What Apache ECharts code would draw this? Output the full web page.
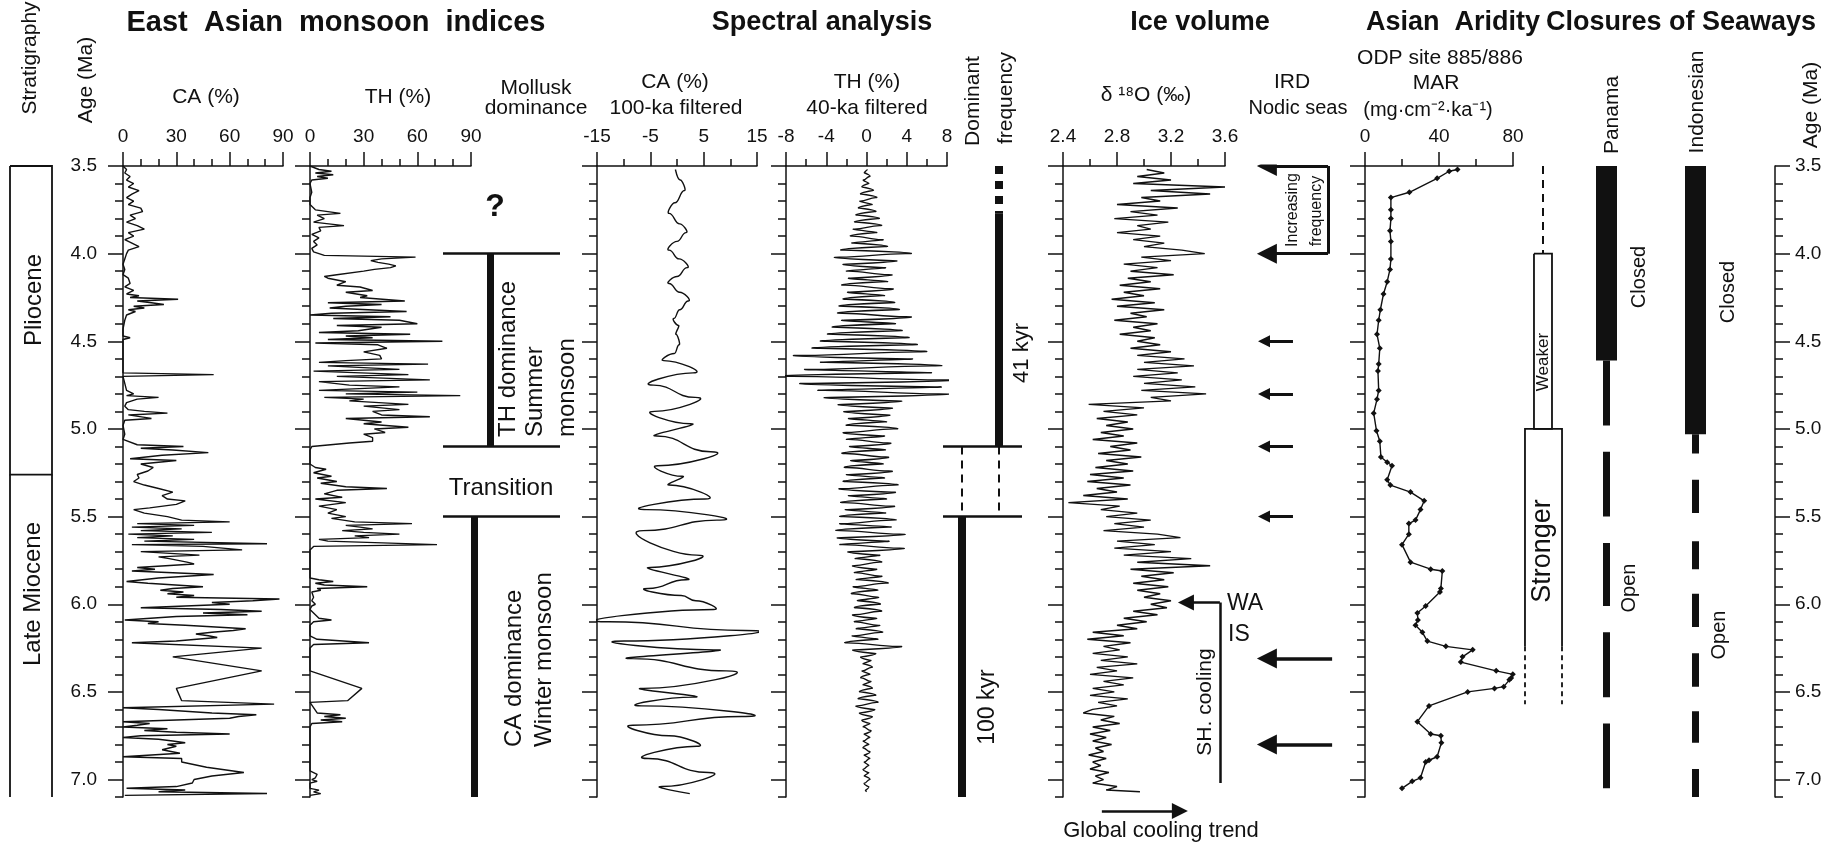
<!DOCTYPE html>
<html>
<head>
<meta charset="utf-8">
<title>Late Miocene - Pliocene monsoon, ice volume, aridity and seaways</title>
<script src="https://cdn.jsdelivr.net/npm/echarts@6/dist/echarts.min.js"></script>
<style>
  html, body { margin: 0; padding: 0; background: #fff; }
  #chart { width: 1846px; height: 847px; }
</style>
</head>
<body>
<div id="chart"></div>
<script>
// ---- age axis ticks (Ma) ----
const ageMajor = [3.5, 4.0, 4.5, 5.0, 5.5, 6.0, 6.5, 7.0];
const ageMinor = [3.6, 3.7, 3.8, 3.9, 4.1, 4.2, 4.3, 4.4, 4.6, 4.7, 4.8, 4.9, 5.1, 5.2, 5.3, 5.4,
  5.6, 5.7, 5.8, 5.9, 6.1, 6.2, 6.3, 6.4, 6.6, 6.7, 6.8, 6.9, 7.1];

// ---- stratigraphy ----
const stratBounds = [3.5, 5.26, 7.1];

// ---- East Asian monsoon indices: [age Ma, %] ----
const caPct = [
  [3.50,0],[3.52,2],[3.54,1],[3.56,4],[3.58,2],[3.60,6],[3.62,3],[3.64,9],[3.66,5],[3.68,2],
  [3.70,6],[3.72,3],[3.74,10],[3.76,11],[3.78,4],[3.80,7],[3.82,2],[3.84,8],[3.86,12],[3.88,3],
  [3.90,6],[3.92,1],[3.94,5],[3.96,9],[3.98,3],[4.00,2],[4.03,1],[4.06,0],[4.09,1],[4.12,0],
  [4.14,3],[4.17,4],[4.19,1],[4.21,6],[4.23,2],[4.24,9],[4.25,4],[4.26,31],[4.27,8],[4.28,16],
  [4.29,23],[4.30,6],[4.31,12],[4.32,3],[4.33,7],[4.35,2],[4.38,1],[4.43,0],[4.47,0],[4.48,4],
  [4.49,0],[4.68,0],[4.69,51],[4.70,0],[4.78,2],[4.80,6],[4.81,2],[4.82,20],[4.83,8],[4.85,2],
  [4.87,1],[4.89,3],[4.90,12],[4.91,25],[4.92,3],[4.94,16],[4.95,1],[4.98,0],[5.03,1],[5.06,0],
  [5.09,8],[5.10,34],[5.11,10],[5.12,28],[5.135,48],[5.15,22],[5.17,4],[5.18,30],[5.20,10],[5.22,17],
  [5.24,14],[5.26,8],[5.28,9],[5.30,6],[5.32,12],[5.34,20],[5.36,28],[5.38,22],[5.40,25],[5.41,35],
  [5.43,30],[5.45,15],[5.46,6],[5.48,12],[5.50,25],[5.52,33],[5.53,60],[5.54,8],[5.55,40],[5.56,5],
  [5.57,33],[5.58,10],[5.59,50],[5.60,3],[5.61,28],[5.62,8],[5.63,40],[5.64,12],[5.655,81],[5.66,5],
  [5.67,45],[5.69,67],[5.70,10],[5.72,43],[5.73,20],[5.74,26],[5.76,36],[5.77,40],[5.79,8],[5.80,18],
  [5.81,5],[5.83,51],[5.85,20],[5.87,2],[5.88,14],[5.90,45],[5.91,28],[5.92,21],[5.93,34],[5.94,25],
  [5.95,40],[5.96,30],[5.97,88],[5.98,73],[5.99,50],[6.00,60],[6.02,10],[6.03,55],[6.04,78],[6.05,45],
  [6.06,70],[6.07,30],[6.09,1],[6.10,20],[6.11,14],[6.12,35],[6.14,69],[6.15,62],[6.16,50],[6.17,41],
  [6.18,48],[6.19,53],[6.21,30],[6.22,5],[6.25,78],[6.30,28],[6.38,78],[6.48,30],[6.55,33],[6.57,85],
  [6.59,0],[6.60,20],[6.61,20],[6.62,50],[6.63,75],[6.64,65],[6.65,60],[6.66,30],[6.67,0],[6.68,15],
  [6.69,8],[6.70,0],[6.71,25],[6.72,12],[6.73,30],[6.74,60],[6.75,10],[6.76,0],[6.77,20],[6.78,28],
  [6.79,35],[6.80,25],[6.81,30],[6.83,22],[6.85,32],[6.87,0],[6.88,33],[6.90,33],[6.93,47],[6.96,68],
  [6.98,50],[7.00,40],[7.02,39],[7.04,30],[7.05,2],[7.06,35],[7.07,20],[7.08,81],[7.09,1]
];

const thPct = [
  [3.50,0],[3.52,5],[3.53,12],[3.54,3],[3.55,13],[3.56,4],[3.57,10],[3.58,1],[3.60,0],[3.65,1],
  [3.68,0],[3.72,0],[3.75,3],[3.77,17],[3.78,4],[3.80,8],[3.82,2],[3.84,19],[3.85,5],[3.87,6],
  [3.89,1],[3.91,5],[3.93,2],[3.95,4],[3.97,1],[3.99,2],[4.01,8],[4.02,59],[4.03,40],[4.04,34],
  [4.05,38],[4.06,44],[4.07,48],[4.08,45],[4.09,36],[4.10,30],[4.12,15],[4.13,8],[4.14,10],[4.16,20],
  [4.18,15],[4.19,28],[4.21,35],[4.22,20],[4.24,32],[4.25,28],[4.27,53],[4.28,10],[4.29,40],[4.30,20],
  [4.31,11],[4.33,54],[4.34,12],[4.35,0],[4.36,45],[4.37,13],[4.38,50],[4.40,60],[4.41,15],[4.42,40],
  [4.44,27],[4.45,5],[4.46,56],[4.47,20],[4.48,35],[4.49,10],[4.50,74],[4.51,3],[4.52,38],[4.54,43],
  [4.56,30],[4.58,39],[4.60,40],[4.61,20],[4.62,5],[4.63,66],[4.64,10],[4.66,50],[4.67,2],[4.69,55],
  [4.70,15],[4.72,67],[4.73,5],[4.75,22],[4.76,50],[4.78,5],[4.79,60],[4.80,20],[4.81,84],[4.82,8],
  [4.83,30],[4.84,22],[4.86,55],[4.87,30],[4.89,50],[4.90,35],[4.92,40],[4.93,67],[4.94,20],[4.96,40],
  [4.97,30],[4.99,55],[5.00,36],[5.02,42],[5.03,30],[5.05,35],[5.07,35],[5.08,22],[5.10,1],[5.12,0],
  [5.20,0],[5.22,3],[5.23,9],[5.25,2],[5.27,12],[5.28,4],[5.30,15],[5.31,6],[5.33,20],[5.34,43],
  [5.35,15],[5.37,8],[5.39,18],[5.40,3],[5.42,20],[5.44,5],[5.46,15],[5.48,10],[5.50,20],[5.51,12],
  [5.53,25],[5.54,57],[5.55,20],[5.56,28],[5.57,35],[5.58,18],[5.59,30],[5.60,50],[5.61,25],[5.62,33],
  [5.63,5],[5.64,10],[5.66,71],[5.67,2],[5.69,0],[5.85,0],[5.86,5],[5.87,13],[5.88,3],[5.89,8],
  [5.90,32],[5.91,4],[5.92,6],[5.93,1],[5.96,2],[5.98,1],[6.00,3],[6.01,1],[6.03,0],[6.06,3],
  [6.08,5],[6.09,12],[6.10,2],[6.12,0],[6.18,0],[6.20,4],[6.22,33],[6.23,2],[6.25,0],[6.38,0],
  [6.48,29],[6.55,21],[6.56,0],[6.62,4],[6.63,17],[6.64,8],[6.65,20],[6.66,6],[6.67,18],[6.68,1],
  [6.70,0],[6.95,0],[6.97,4],[6.99,3],[7.00,1],[7.01,4],[7.02,0],[7.05,0],[7.06,5],[7.07,2],
  [7.08,6],[7.09,0]
];

// mollusk dominance (Ma)
const molluskBounds = [4.0, 5.1, 5.5];
const thDominance = [4.0, 5.1];
const caDominance = [5.5, 7.1];

// ---- spectral analysis: filtered series [age Ma, %] ----
const caFiltered = [
  [3.52,-0.3],[3.58,0.6],[3.64,1.4],[3.71,-0.4],[3.77,-1.5],[3.83,0.5],[3.88,1.7],[3.93,0],[3.98,-1.5],
  [4.03,0.4],[4.08,1.9],[4.13,0],[4.17,-1.5],[4.22,0.5],[4.27,2.1],[4.32,0.5],[4.37,-0.6],[4.41,0.3],
  [4.46,-0.2],[4.52,0.4],[4.57,-0.5],[4.61,-2.5],[4.68,3.0],[4.75,-4.4],[4.82,3.4],[4.90,-4.2],[4.97,2.5],
  [5.04,-3.8],[5.13,6.3],[5.21,-3.6],[5.27,1.0],[5.32,-1.5],[5.40,5.3],[5.46,-5.7],[5.52,7.5],[5.58,-6.3],
  [5.72,3.7],[5.79,-5.0],[5.86,1.7],[5.91,-5.4],[5.95,0.8],[5.98,3.5],[6.03,6.9],[6.10,-12.8],[6.15,12.7],
  [6.21,-9.9],[6.26,6.9],[6.31,-8.3],[6.38,9.2],[6.48,-6.3],[6.53,3.0],[6.58,-6.6],[6.64,12.1],[6.69,-8.3],
  [6.75,-1.5],[6.81,3.7],[6.88,-5.4],[6.96,5.9],[7.04,-2.8],[7.08,2.4]
];

const thFiltered = [
  [3.52,0.1],[3.54,-0.2],[3.56,0.3],[3.58,-0.3],[3.60,0.2],[3.62,-0.4],[3.64,0.6],[3.66,-0.5],[3.68,0.9],[3.70,-0.6],
  [3.72,0.5],[3.74,-0.7],[3.76,0.8],[3.78,-0.9],[3.80,1.1],[3.82,-1.0],[3.84,1.3],[3.86,-1.2],[3.88,0.9],[3.90,-1.4],
  [3.92,1.5],[3.94,-1.3],[3.96,1.8],[3.98,-2.2],[4.00,3.9],[4.02,-2.7],[4.04,2.6],[4.06,-2.0],[4.08,1.7],[4.10,-1.8],
  [4.12,2.2],[4.14,-1.6],[4.16,1.9],[4.18,-2.1],[4.20,2.3],[4.22,-1.7],[4.24,1.6],[4.26,-2.0],[4.28,2.4],[4.30,-2.3],
  [4.32,2.8],[4.34,-2.4],[4.36,3.9],[4.38,-2.2],[4.40,2.6],[4.42,-2.9],[4.44,3.0],[4.46,-3.3],[4.48,3.6],[4.50,-3.9],
  [4.52,4.3],[4.54,-4.6],[4.56,5.1],[4.58,-6.3],[4.60,4.1],[4.62,-4.1],[4.64,6.5],[4.66,-5.5],[4.68,5.8],[4.70,-7.4],
  [4.72,7.7],[4.74,-5.5],[4.76,6.8],[4.78,-4.2],[4.80,7.2],[4.82,-3.6],[4.84,3.0],[4.86,-2.4],[4.88,2.2],[4.90,-1.9],
  [4.92,2.0],[4.94,-1.6],[4.96,1.8],[4.98,-1.7],[5.00,2.7],[5.02,-2.0],[5.04,1.6],[5.06,-1.8],[5.08,2.1],[5.10,-1.5],
  [5.12,1.7],[5.14,-2.1],[5.16,1.9],[5.18,-1.4],[5.20,1.5],[5.22,-1.9],[5.24,2.2],[5.26,-1.8],[5.28,1.6],[5.30,-2.0],
  [5.32,2.7],[5.34,-2.3],[5.36,2.5],[5.38,-1.6],[5.40,1.8],[5.42,-2.2],[5.44,2.4],[5.46,-1.9],[5.48,1.7],[5.50,-2.3],
  [5.52,2.5],[5.54,-2.4],[5.56,2.2],[5.58,-2.6],[5.60,3.3],[5.62,-2.5],[5.64,2.0],[5.66,-2.4],[5.68,3.3],[5.70,-1.6],
  [5.72,1.2],[5.74,-1.0],[5.76,1.3],[5.78,-1.2],[5.80,0.9],[5.82,-1.1],[5.84,1.4],[5.86,-0.9],[5.88,1.9],[5.90,-1.2],
  [5.92,1.0],[5.94,-1.3],[5.96,1.1],[5.98,-0.8],[6.00,1.2],[6.02,-1.0],[6.04,1.3],[6.06,-1.2],[6.08,0.9],[6.10,-1.1],
  [6.12,1.2],[6.14,-0.9],[6.16,1.4],[6.18,-1.3],[6.20,1.0],[6.22,-1.9],[6.24,3.1],[6.26,-1.2],[6.28,0.8],[6.30,-0.5],
  [6.32,0.4],[6.34,-0.3],[6.36,0.5],[6.38,-0.4],[6.40,0.3],[6.42,-0.5],[6.44,0.4],[6.46,-0.3],[6.48,0.5],[6.50,-0.6],
  [6.52,0.8],[6.54,-0.7],[6.56,1.0],[6.58,-0.9],[6.60,0.7],[6.62,-0.6],[6.64,0.5],[6.66,-0.4],[6.68,0.3],[6.70,-0.3],
  [6.72,0.4],[6.74,-0.2],[6.76,0.3],[6.78,-0.3],[6.80,0.2],[6.82,-0.3],[6.84,0.3],[6.86,-0.2],[6.88,0.3],[6.90,-0.2],
  [6.92,0.2],[6.94,-0.3],[6.96,0.2],[6.98,-0.2],[7.00,0.3],[7.02,-0.2],[7.04,0.2],[7.06,-0.1],[7.07,0]
];

// dominant frequency (Ma)
const domBounds = [5.1, 5.5];
const dom41Uncertain = [3.5, 3.77];
const dom41 = [3.77, 5.1];
const domTransition = [5.1, 5.5];
const dom100 = [5.5, 7.1];

// ---- ice volume: benthic d18O [age Ma, permil] ----
const d18o = [
  [3.52,3.02],[3.54,3.15],[3.56,2.95],[3.58,3.20],[3.60,2.92],[3.62,3.60],[3.64,3.05],[3.66,3.49],[3.68,2.98],[3.70,3.12],
  [3.72,2.80],[3.74,3.25],[3.76,2.90],[3.78,3.10],[3.80,2.78],[3.82,3.18],[3.84,2.95],[3.86,3.05],[3.88,2.80],[3.90,3.12],
  [3.92,2.92],[3.94,3.15],[3.96,3.00],[3.98,3.28],[4.00,3.45],[4.02,2.98],[4.04,3.20],[4.06,2.85],[4.08,3.10],[4.10,2.90],
  [4.12,3.22],[4.14,2.88],[4.16,3.05],[4.18,2.82],[4.20,3.12],[4.22,2.85],[4.24,3.00],[4.26,2.76],[4.28,3.08],[4.30,2.80],
  [4.32,3.15],[4.34,2.90],[4.36,3.02],[4.38,2.78],[4.40,3.10],[4.42,2.92],[4.44,3.05],[4.46,2.82],[4.48,3.08],[4.50,2.95],
  [4.52,3.12],[4.54,2.90],[4.56,3.20],[4.58,2.95],[4.60,3.30],[4.62,3.00],[4.64,3.37],[4.66,2.95],[4.68,3.25],[4.70,2.92],
  [4.72,3.28],[4.74,3.00],[4.76,3.38],[4.78,2.98],[4.80,3.46],[4.82,3.05],[4.84,3.20],[4.86,2.59],[4.88,3.00],[4.90,2.70],
  [4.92,2.95],[4.94,2.65],[4.96,2.88],[4.98,2.72],[5.00,2.92],[5.02,2.68],[5.04,2.85],[5.06,2.62],[5.08,2.95],[5.10,2.75],
  [5.12,2.90],[5.14,2.66],[5.16,2.98],[5.18,2.72],[5.20,2.88],[5.22,2.64],[5.24,2.92],[5.26,2.60],[5.28,2.85],[5.30,2.58],
  [5.32,2.90],[5.34,2.65],[5.36,2.80],[5.38,2.55],[5.40,2.88],[5.42,2.44],[5.44,2.82],[5.46,2.68],[5.48,2.95],[5.50,2.72],
  [5.52,3.05],[5.54,2.78],[5.56,3.00],[5.58,2.70],[5.60,3.10],[5.62,3.27],[5.64,2.80],[5.66,3.08],[5.68,2.78],[5.70,3.20],
  [5.72,2.85],[5.74,3.35],[5.76,2.95],[5.78,3.49],[5.80,2.90],[5.82,3.22],[5.84,2.98],[5.86,3.15],[5.88,2.92],[5.90,3.18],
  [5.92,2.95],[5.94,3.12],[5.96,3.00],[5.98,3.20],[6.00,3.05],[6.02,3.17],[6.04,2.92],[6.06,3.10],[6.08,2.85],[6.10,3.02],
  [6.12,2.80],[6.14,2.95],[6.16,2.62],[6.18,2.85],[6.20,2.58],[6.22,2.90],[6.24,2.70],[6.26,2.82],[6.28,2.62],[6.30,2.88],
  [6.32,2.68],[6.34,2.95],[6.36,2.65],[6.38,2.80],[6.40,2.60],[6.42,2.92],[6.44,2.70],[6.46,2.85],[6.48,2.62],[6.50,2.78],
  [6.52,2.60],[6.54,2.88],[6.56,2.66],[6.58,2.80],[6.60,2.62],[6.62,2.55],[6.64,2.78],[6.66,2.68],[6.68,2.82],[6.70,2.62],
  [6.72,2.75],[6.74,2.60],[6.76,2.72],[6.78,2.62],[6.80,2.76],[6.82,2.64],[6.84,2.70],[6.86,2.59],[6.88,2.72],[6.90,2.62],
  [6.92,2.68],[6.94,2.60],[6.96,2.74],[6.98,2.64],[7.00,2.70],[7.02,2.62],[7.04,2.80],[7.06,2.72],[7.07,2.97]
];

// IRD in Nordic seas and ice-sheet events (Ma)
const irdBracket = [3.5, 4.0];
const irdSmall = [4.5, 4.8, 5.1, 5.5];
const irdLarge = [6.31, 6.8];
const waisAge = 5.99;
const shCooling = [5.99, 7.02];
const globalCoolingAge = 7.18;

// ---- Asian aridity: ODP 885/886 MAR [age Ma, mg cm-2 ka-1] ----
const mar = [
  [3.52,50],[3.53,45.5],[3.57,39],[3.65,24],[3.68,14],[3.75,14],[3.80,14],[3.87,13.5],[3.93,14],[4.03,14],
  [4.09,13.5],[4.16,12],[4.23,10],[4.32,8.3],[4.38,7.4],[4.46,6.5],[4.54,8],[4.63,7.4],[4.67,7],[4.78,7.4],
  [4.83,6.5],[4.91,4.7],[5.01,6.2],[5.07,8],[5.16,8.6],[5.19,12],[5.21,14.6],[5.29,12],[5.32,13.7],[5.36,24.6],
  [5.41,32],[5.46,30],[5.52,27.3],[5.54,23.7],[5.60,23.7],[5.66,20],[5.76,24.6],[5.80,35.5],[5.81,41.8],[5.91,41],
  [5.93,40.5],[6.01,32.8],[6.05,28.3],[6.09,28.6],[6.12,27.3],[6.16,31],[6.21,33.7],[6.24,43.7],[6.26,58.2],[6.30,52.7],
  [6.33,51.8],[6.38,70.9],[6.40,79.9],[6.42,79],[6.43,78],[6.47,75],[6.48,70],[6.50,55.5],[6.58,34.6],[6.67,28.3],
  [6.74,35.5],[6.75,41],[6.79,41.3],[6.87,39],[6.89,34.6],[6.90,32.8],[6.99,30],[7.01,25.5],[7.05,20]
];
const aridityUncertain = [3.5, 4.0];
const aridityWeaker = [4.0, 5.0];
const aridityStronger = [5.0, 6.24];
const aridityStrongerUncertain = [6.24, 6.57];

// ---- closures of seaways (Ma) ----
const seaways = ['Panama', 'Indonesian'];
const panamaClosed = [3.5, 4.61];
const panamaOpen = [[4.61, 4.98], [5.13, 5.5], [5.65, 6.01], [6.16, 6.53], [6.68, 7.05]];
const indoClosed = [3.5, 5.03];
const indoOpen = [[5.03, 5.14], [5.29, 5.48], [5.64, 5.8], [5.94, 6.13], [6.28, 6.47], [6.61, 6.79], [6.94, 7.1]];

// =================== layout ===================
const FONT = '"Liberation Sans", Arial, Helvetica, sans-serif';
const INK = '#111';
const TOP = 166;
const PX_PER_MA = 175.3;
const AGE_MIN = 3.5, AGE_MAX = 7.1;

const grids = [], xAxes = [], yAxes = [], series = [], graphics = [];

function panel(left, width, xAxis, o = {}) {
  const ageMax = o.ageMax || AGE_MAX;
  const gi = grids.length;
  grids.push({left, top: TOP, width, height: (ageMax - AGE_MIN) * PX_PER_MA});
  xAxes.push(Object.assign({gridIndex: gi, position: 'top', splitLine: {show: false}}, xAxis));
  const yi = yAxes.length;
  const base = {gridIndex: gi, type: 'value', inverse: true, min: AGE_MIN, max: ageMax,
    position: o.side || 'left', splitLine: {show: false}};
  if (o.ageAxis) {
    yAxes.push(Object.assign({}, base, {
      axisLine: {show: true, onZero: false, lineStyle: {color: INK, width: 1.5}},
      axisTick: {show: true, length: 15, customValues: ageMajor, lineStyle: {color: INK, width: 1.5}},
      axisLabel: {show: !!o.ageLabels, customValues: ageMajor, formatter: v => v.toFixed(1),
        margin: o.side === 'right' ? 20 : 26, color: INK, fontSize: 19, fontFamily: FONT}
    }));
    yAxes.push(Object.assign({}, base, {
      axisLine: {show: false, onZero: false},
      axisTick: {show: true, length: 8, customValues: ageMinor, lineStyle: {color: INK, width: 1.5}},
      axisLabel: {show: false}
    }));
  } else {
    yAxes.push(Object.assign({}, base, {show: false}));
  }
  return {x: gi, y: yi};
}

function valueX(min, max, interval, minorSplit, decimals) {
  return {
    type: 'value', min, max, interval,
    axisLine: {show: true, onZero: false, lineStyle: {color: INK, width: 1.5}},
    axisTick: {show: true, length: 14, lineStyle: {color: INK, width: 1.5}},
    minorTick: {show: true, splitNumber: minorSplit, length: 7, lineStyle: {color: INK, width: 1.5}},
    axisLabel: {margin: 20, color: INK, fontSize: 19, fontFamily: FONT,
      formatter: v => decimals ? v.toFixed(decimals) : String(v)}
  };
}
const hiddenX = () => ({type: 'value', min: 0, max: 1, show: false});

function curve(ax, pts, extra) {
  series.push(Object.assign({
    type: 'line', xAxisIndex: ax.x, yAxisIndex: ax.y,
    data: pts.map(p => [p[1], p[0]]),
    symbol: 'none', lineStyle: {color: INK, width: 1.4}, silent: true, animation: false
  }, extra || {}));
}

function segs(ax, coordsList, lineStyle, extra) {
  series.push(Object.assign({
    type: 'lines', coordinateSystem: 'cartesian2d', xAxisIndex: ax.x, yAxisIndex: ax.y,
    data: coordsList.map(c => ({coords: c})),
    lineStyle: Object.assign({color: INK, width: 2, opacity: 1, curveness: 0}, lineStyle),
    symbol: 'none', silent: true, animation: false
  }, extra || {}));
}

function label(text, x, y, size, o = {}) {
  const align = o.align || 'center';
  graphics.push({
    type: 'text', x, y, rotation: o.rotate ? Math.PI / 2 : 0, silent: true, z: 10,
    style: {
      text, fill: INK, font: (o.bold ? 'bold ' : '') + size + 'px ' + FONT,
      align, verticalAlign: 'middle', textAlign: align, textVerticalAlign: 'middle'
    }
  });
}

// stratigraphy
const gStrat = panel(10, 42, hiddenX());
segs(gStrat, [[[0, stratBounds[0]], [1, stratBounds[0]], [1, stratBounds[1]], [0, stratBounds[1]], [0, stratBounds[0]]]],
  {width: 1.8}, {polyline: true});
segs(gStrat, [[[0, stratBounds[1]], [0, stratBounds[2]]], [[1, stratBounds[1]], [1, stratBounds[2]]]], {width: 1.8});

// CA %, TH %
const gCA = panel(123, 160, valueX(0, 90, 30, 3), {ageAxis: true, ageLabels: true});
curve(gCA, caPct);
const gTH = panel(310, 161, valueX(0, 90, 30, 3), {ageAxis: true});
curve(gTH, thPct);

// mollusk dominance
const gMol = panel(443, 117, hiddenX());
segs(gMol, molluskBounds.map(a => [[0, a], [1, a]]), {width: 2.5});
segs(gMol, [[[0.40, thDominance[0]], [0.40, thDominance[1]]], [[0.27, caDominance[0]], [0.27, caDominance[1]]]], {width: 7});

// filtered series
const gCAf = panel(597, 160, valueX(-15, 15, 10, 2), {ageAxis: true});
curve(gCAf, caFiltered, {smooth: 0.5, smoothMonotone: 'x'});
const gTHf = panel(786, 161, valueX(-8, 8, 4, 2), {ageAxis: true});
curve(gTHf, thFiltered, {smooth: 0.4, smoothMonotone: 'x', lineStyle: {color: INK, width: 1.3}});

// dominant frequency
const gDom = panel(943, 79, hiddenX());
segs(gDom, domBounds.map(a => [[0, a], [1, a]]), {width: 2.5});
segs(gDom, [[[0.70, dom41Uncertain[0]], [0.70, dom41Uncertain[1]]]], {width: 8, type: [8, 7]});
segs(gDom, [[[0.70, dom41[0]], [0.70, dom41[1]]], [[0.24, dom100[0]], [0.24, dom100[1]]]], {width: 8});
segs(gDom, [[[0.24, domTransition[0]], [0.24, domTransition[1]]], [[0.70, domTransition[0]], [0.70, domTransition[1]]]],
  {width: 2, type: [8, 6]});

// ice volume
const gIce = panel(1063, 162, valueX(2.4, 3.6, 0.4, 2, 1), {ageAxis: true});
curve(gIce, d18o, {lineStyle: {color: INK, width: 1.4}});

// annotations next to ice volume (IRD arrows, WAIS, cooling trend)
const gAnn = panel(1063, 290, hiddenX(), {ageMax: 7.3});
segs(gAnn, irdBracket.map(a => [[0.914, a], [0.703, a]]), {width: 3}, {symbol: ['none', 'triangle'], symbolSize: 20});
segs(gAnn, [[[0.914, irdBracket[0]], [0.914, irdBracket[1]]]], {width: 3});
segs(gAnn, irdSmall.map(a => [[0.793, a], [0.693, a]]), {width: 3}, {symbol: ['none', 'triangle'], symbolSize: 12});
segs(gAnn, irdLarge.map(a => [[0.928, a], [0.703, a]]), {width: 3.5}, {symbol: ['none', 'triangle'], symbolSize: 20});
segs(gAnn, [[[0.541, waisAge], [0.424, waisAge]]], {width: 2.5}, {symbol: ['none', 'triangle'], symbolSize: 16});
segs(gAnn, [[[0.541, shCooling[0]], [0.541, shCooling[1]]]], {width: 2.5});
segs(gAnn, [[[0.134, globalCoolingAge], [0.403, globalCoolingAge]]], {width: 2.5}, {symbol: ['none', 'triangle'], symbolSize: 16});

// Asian aridity MAR
const gMar = panel(1365, 148, valueX(0, 80, 40, 2), {ageAxis: true});
curve(gMar, mar, {symbol: 'diamond', symbolSize: 6, showSymbol: true, itemStyle: {color: INK}});

// weaker / stronger aridity boxes
const gAr = panel(1515, 57, hiddenX());
segs(gAr, [[[0.491, aridityUncertain[0]], [0.491, aridityUncertain[1]]]], {width: 2, type: [8, 6]});
segs(gAr, [[[0.333, aridityWeaker[0]], [0.649, aridityWeaker[0]], [0.649, aridityWeaker[1]], [0.333, aridityWeaker[1]], [0.333, aridityWeaker[0]]]],
  {width: 1.8}, {polyline: true});
segs(gAr, [[[0.175, aridityStronger[1]], [0.175, aridityStronger[0]], [0.825, aridityStronger[0]], [0.825, aridityStronger[1]]]],
  {width: 1.8}, {polyline: true});
segs(gAr, [[[0.175, aridityStrongerUncertain[0]], [0.175, aridityStrongerUncertain[1]]],
  [[0.825, aridityStrongerUncertain[0]], [0.825, aridityStrongerUncertain[1]]]], {width: 1.8, type: [5, 4]});

// seaways
const gSea = panel(1562, 178, {type: 'category', data: seaways, boundaryGap: true, show: false});
const iPan = seaways.indexOf('Panama'), iIndo = seaways.indexOf('Indonesian');
segs(gSea, [[[iPan, panamaClosed[0]], [iPan, panamaClosed[1]]], [[iIndo, indoClosed[0]], [iIndo, indoClosed[1]]]], {width: 21});
segs(gSea, panamaOpen.map(s => [[iPan, s[0]], [iPan, s[1]]]).concat(indoOpen.map(s => [[iIndo, s[0]], [iIndo, s[1]]])), {width: 7});

// right age axis
panel(1765, 10, hiddenX(), {ageAxis: true, ageLabels: true, side: 'right'});

// =================== text ===================
label('East  Asian  monsoon  indices', 336, 23, 29, {bold: true});
label('Spectral analysis', 822, 23, 27, {bold: true});
label('Ice volume', 1200, 23, 27, {bold: true});
label('Asian  Aridity', 1453, 23, 27, {bold: true});
label('Closures of Seaways', 1681, 23, 27, {bold: true});

label('Stratigraphy', 30, 58, 21, {rotate: true});
label('Age (Ma)', 86, 80, 21, {rotate: true});
label('CA (%)', 206, 97, 21);
label('TH (%)', 398, 97, 21);
label('Mollusk', 536, 88, 21);
label('dominance', 536, 108, 21);
label('CA (%)', 675, 82, 21);
label('100-ka filtered', 676, 108, 21);
label('TH (%)', 867, 82, 21);
label('40-ka filtered', 867, 108, 21);
label('Dominant', 973, 101, 21, {rotate: true});
label('frequency', 1006, 98, 21, {rotate: true});
label('δ ¹⁸O (‰)', 1146, 95, 21);
label('IRD', 1292, 82, 21);
label('Nodic seas', 1298, 108, 20);
label('ODP site 885/886', 1440, 58, 21);
label('MAR', 1436, 83, 21);
label('(mg·cm⁻²·ka⁻¹)', 1428, 110, 20);
label('Panama', 1612, 115, 21, {rotate: true});
label('Indonesian', 1697, 102, 21, {rotate: true});
label('Age (Ma)', 1811, 105, 21, {rotate: true});

label('Pliocene', 34, 300, 24, {rotate: true});
label('Late Miocene', 33, 594, 24, {rotate: true});
label('?', 495, 207, 32, {bold: true});
label('TH dominance', 508, 437, 24, {rotate: true, align: 'left'});
label('Summer', 535, 437, 24, {rotate: true, align: 'left'});
label('monsoon', 567, 437, 24, {rotate: true, align: 'left'});
label('Transition', 501, 488, 24);
label('CA dominance', 514, 747, 24, {rotate: true, align: 'left'});
label('Winter monsoon', 544, 747, 24, {rotate: true, align: 'left'});
label('41 kyr', 1022, 353, 22, {rotate: true});
label('100 kyr', 988, 707, 23, {rotate: true});
label('Increasing', 1293, 210, 16, {rotate: true});
label('frequency', 1317, 211, 16, {rotate: true});
label('WA', 1227, 604, 23, {align: 'left'});
label('IS', 1228, 635, 23, {align: 'left'});
label('SH. cooling', 1205, 702, 21, {rotate: true});
label('Global cooling trend', 1161, 831, 22);
label('Weaker', 1543, 362, 17, {rotate: true});
label('Stronger', 1543, 551, 27, {rotate: true});
label('Closed', 1639, 277, 20, {rotate: true});
label('Closed', 1728, 292, 20, {rotate: true});
label('Open', 1629, 588, 20, {rotate: true});
label('Open', 1719, 635, 20, {rotate: true});

const chart = echarts.init(document.getElementById('chart'), null, {renderer: 'canvas'});
chart.setOption({
  backgroundColor: '#fff',
  animation: false,
  grid: grids,
  xAxis: xAxes,
  yAxis: yAxes,
  series,
  graphic: {elements: graphics}
});
window.addEventListener('resize', chart.resize);
</script>
</body>
</html>
